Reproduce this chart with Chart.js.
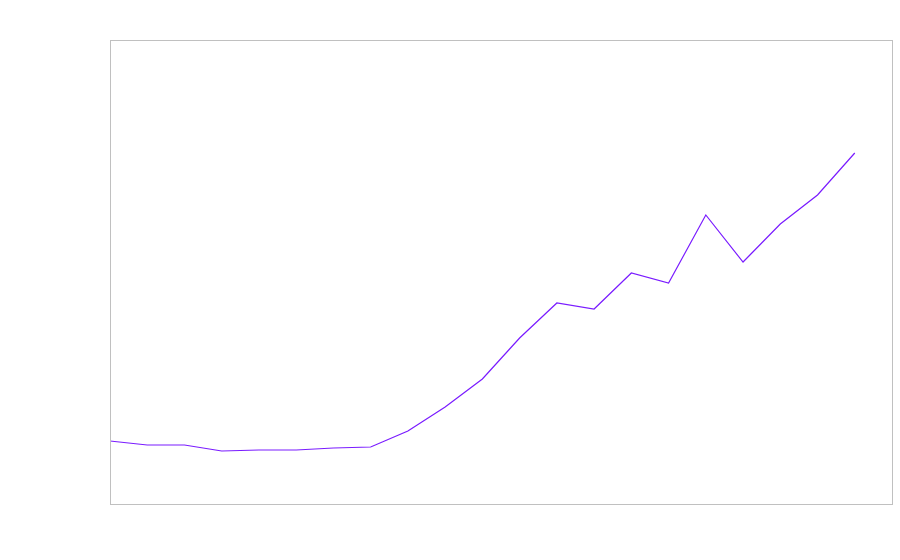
<!DOCTYPE html>
<html>
<head>
<meta charset="utf-8">
<script src="https://cdn.jsdelivr.net/npm/chart.js@4"></script>
<style>
    html, body { margin: 0; padding: 0; background: #ffffff; }
    #wrap { width: 900px; height: 560px; }
</style>
</head>
<body>
<div id="wrap"><canvas id="graf" width="900" height="560"></canvas></div>
<script>
// Kategórie (os x) – popisky nie sú zobrazené
const kategorie = ['1', '2', '3', '4', '5', '6', '7', '8', '9', '10', '11',
                   '12', '13', '14', '15', '16', '17', '18', '19', '20', '21', '22']

// Hodnoty série (posledná kategória bez hodnoty)
const hodnoty = [63, 59, 59, 53, 54, 54, 56, 57, 73, 97, 125,
                 166, 201, 195, 231, 221, 289, 242, 280, 309, 351, null]

// Rozsah osi y
const osY = { min: 0, max: 464 }

// Rámček okolo plochy grafu
const ramcek = {
    id: 'ramcek',
    afterDraw(chart) {
        const { ctx, chartArea: a } = chart
        ctx.save()
        ctx.strokeStyle = '#c0c0c0'
        ctx.lineWidth = 1
        ctx.strokeRect(Math.round(a.left) + 0.5, Math.round(a.top) + 0.5,
                       Math.round(a.right - a.left), Math.round(a.bottom - a.top))
        ctx.restore()
    }
}

new Chart(document.getElementById('graf').getContext('2d'), {
    type: 'line',
    data: {
        labels: kategorie,
        datasets: [{
            data: hodnoty,
            borderColor: '#7a1cff',
            borderWidth: 1.2,
            pointRadius: 0,
            tension: 0,
            fill: false
        }]
    },
    options: {
        responsive: false,
        animation: false,
        layout: { padding: { left: 110, top: 40, right: 8, bottom: 56 } },
        plugins: {
            legend: { display: false },
            tooltip: { enabled: false }
        },
        scales: {
            x: { display: false },
            y: { display: false, min: osY.min, max: osY.max }
        }
    },
    plugins: [ramcek]
})
</script>
</body>
</html>
